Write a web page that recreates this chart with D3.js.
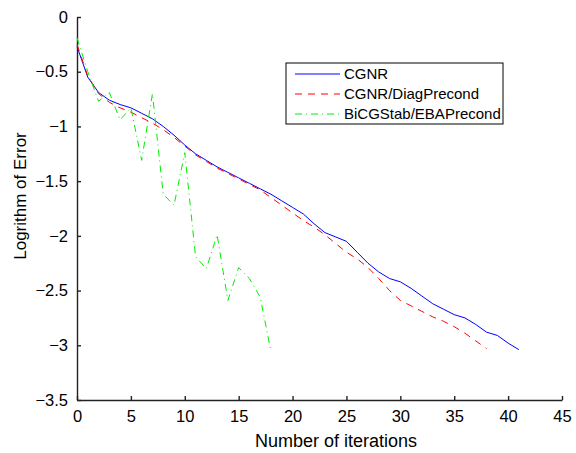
<!DOCTYPE html>
<html lang="en">
<head>
    <meta charset="UTF-8">
    <title></title>
    <style type="text/css">
        html, body { padding:0; margin:0; background:#fff; }
        text { font-family: "Liberation Sans", Arial, Helvetica, sans-serif; }
    </style>
</head>
<body>
<script src="https://d3js.org/d3.v7.min.js"></script>
<script type="text/javascript">
    var cgnr = [-0.27, -0.55, -0.69, -0.76, -0.80, -0.83, -0.88, -0.93, -1.00, -1.08,
                -1.17, -1.25, -1.31, -1.37, -1.42, -1.47, -1.52, -1.57, -1.62, -1.68,
                -1.74, -1.80, -1.89, -1.97, -2.01, -2.05, -2.15, -2.25, -2.33, -2.39,
                -2.42, -2.48, -2.55, -2.62, -2.67, -2.72, -2.75, -2.81, -2.88, -2.91,
                -2.98, -3.04];
    var cgnrDiag = [-0.25, -0.54, -0.70, -0.78, -0.83, -0.87, -0.92, -0.97, -1.03, -1.10,
                    -1.18, -1.26, -1.32, -1.38, -1.43, -1.48, -1.53, -1.58, -1.65, -1.72,
                    -1.79, -1.86, -1.92, -1.99, -2.07, -2.15, -2.21, -2.29, -2.39, -2.50,
                    -2.59, -2.64, -2.69, -2.74, -2.78, -2.83, -2.89, -2.96, -3.03];
    var bicg = [-0.19, -0.50, -0.77, -0.69, -0.94, -0.83, -1.31, -0.70, -1.62, -1.72,
                -1.24, -2.19, -2.30, -1.99, -2.59, -2.29, -2.39, -2.56, -3.06];
    var names = ['CGNR', 'CGNR/DiagPrecond', 'BiCGStab/EBAPrecond'];
    var colors = ['#0000ff', '#ff0000', '#00ee00'];
    var dashes = [null, '7,6', '7,4,1,4'];
    var xTicks = [0, 5, 10, 15, 20, 25, 30, 35, 40, 45];
    var yTicks = [0, -0.5, -1, -1.5, -2, -2.5, -3, -3.5];

    var width = 576,
        height = 453,
        marginLeft = 77, marginTop = 17,
        plotW = 485, plotH = 383,
        svg;

    svg = d3.select('body').append('svg')
            .attr('width', width)
            .attr('height', height);

    var xScale = d3.scaleLinear().domain([0, 45]).range([0, plotW]);
    var yScale = d3.scaleLinear().domain([-3.5, 0]).range([plotH, 0]);

    var g = svg.append('g').attr('transform', 'translate(' + marginLeft + ',' + marginTop + ')');

    var xAxis = d3.axisBottom(xScale).tickValues(xTicks)
                  .tickSizeInner(-4).tickSizeOuter(0).tickPadding(10);
    var yAxis = d3.axisLeft(yScale).tickValues(yTicks)
                  .tickSizeInner(-4).tickSizeOuter(0).tickPadding(9)
                  .tickFormat(function(d) { return d === 0 ? '0' : '\u2212' + Math.abs(d); });

    var gx = g.append('g').attr('class', 'x-axis')
              .attr('transform', 'translate(0,' + plotH + ')').call(xAxis);
    var gy = g.append('g').attr('class', 'y-axis').call(yAxis);

    [gx, gy].forEach(function(a) {
        a.selectAll('path, line').attr('stroke', '#222').attr('stroke-width', 1.4);
        a.selectAll('text').attr('fill', '#000').style('font-size', '16.5px')
         .style('font-family', '"Liberation Sans", Arial, sans-serif');
    });

    var line = d3.line()
                 .x(function(d, i) { return xScale(i); })
                 .y(function(d) { return yScale(d); });

    [cgnr, cgnrDiag, bicg].forEach(function(s, k) {
        g.append('path')
         .attr('d', line(s))
         .attr('fill', 'none')
         .attr('stroke', colors[k])
         .attr('stroke-width', 1)
         .attr('stroke-dasharray', dashes[k]);
    });

    // legend
    var lg = svg.append('g').attr('transform', 'translate(286,63)');
    lg.append('rect').attr('width', 217).attr('height', 61)
      .attr('fill', '#fff').attr('stroke', '#000').attr('stroke-width', 1);
    names.forEach(function(n, k) {
        var yy = 11 + k * 20;
        lg.append('line').attr('x1', 9).attr('x2', 54).attr('y1', yy).attr('y2', yy)
          .attr('stroke', colors[k]).attr('stroke-width', 1)
          .attr('stroke-dasharray', dashes[k]);
        lg.append('text').attr('x', 58).attr('y', yy).attr('dy', '0.35em')
          .style('font-size', '15px').text(n);
    });

    svg.append('text')
       .attr('x', 336).attr('y', 447)
       .attr('text-anchor', 'middle')
       .style('font-size', '18px')
       .text('Number of iterations');

    svg.append('text')
       .attr('transform', 'translate(26,196) rotate(-90)')
       .attr('text-anchor', 'middle')
       .style('font-size', '17px')
       .text('Logrithm of Error');
</script>
</body>
</html>
